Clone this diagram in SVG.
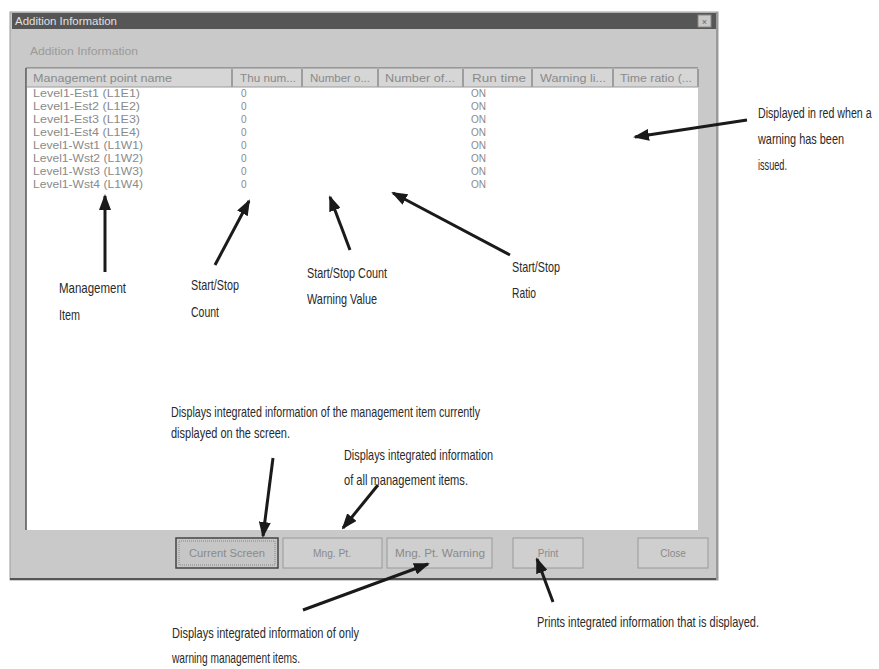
<svg xmlns="http://www.w3.org/2000/svg" width="879" height="669" viewBox="0 0 879 669">
<style>
.ann{font-family:"Liberation Sans Narrow","Liberation Sans",Arial,sans-serif;font-size:15px;fill:#2a2a2a}
.ann2{font-family:"Liberation Sans",Arial,sans-serif;font-size:15px;fill:#2a2a2a}
.ui{font-family:"Liberation Sans","DejaVu Sans",sans-serif;font-size:10px;fill:#8a8a8a}
.hdr{font-family:"Liberation Sans","DejaVu Sans",sans-serif;font-size:10px;fill:#8a8a8a}
.btn{fill:#cfcfcf;stroke:#9a9a9a;stroke-width:1}
.arrow{fill:none;stroke:#1a1a1a;stroke-width:3}
</style>
<defs>
<marker id="ah" viewBox="0 0 16 12" refX="14" refY="6" markerWidth="16" markerHeight="12" markerUnits="userSpaceOnUse" orient="auto">
<path d="M0,0 L16,6 L0,12 z" fill="#1a1a1a"/>
</marker>
</defs>
<rect width="879" height="669" fill="#ffffff"/>
<g id="dialog">
<rect x="10" y="12" width="708" height="568" fill="#c9c9c9" stroke="#9c9c9c"/>
<line x1="10" y1="579" x2="718" y2="579" stroke="#555" stroke-width="2"/>
<line x1="717" y1="12" x2="717" y2="580" stroke="#9a9a9a" stroke-width="2"/>
<rect x="12" y="13" width="704" height="16" fill="#565656"/>
<text x="15" y="25" class="ui" style="fill:#e0e0e0" textLength="102" lengthAdjust="spacingAndGlyphs">Addition Information</text>
<rect x="698" y="15" width="13" height="12" fill="#c9c9c9" stroke="#888"/>
<text x="704.5" y="24.5" class="ui" text-anchor="middle" style="fill:#666;font-size:9px">×</text>
<text x="30" y="55" class="ui" style="fill:#9a9a9a" textLength="108" lengthAdjust="spacingAndGlyphs">Addition Information</text>
</g>
<g id="list">
<rect x="26" y="68" width="672" height="462" fill="#ffffff"/>
<line x1="26" y1="68" x2="26" y2="530" stroke="#555" stroke-width="1.5"/>
<line x1="26" y1="68" x2="698" y2="68" stroke="#666" stroke-width="1"/>
<rect x="27" y="69" width="671" height="18" fill="#d6d6d6"/>
<g stroke="#8a8a8a" stroke-width="1.5">
<line x1="232" y1="69" x2="232" y2="87"/>
<line x1="302" y1="69" x2="302" y2="87"/>
<line x1="378" y1="69" x2="378" y2="87"/>
<line x1="463" y1="69" x2="463" y2="87"/>
<line x1="532" y1="69" x2="532" y2="87"/>
<line x1="613" y1="69" x2="613" y2="87"/>
<line x1="698" y1="69" x2="698" y2="87"/>
</g>
<line x1="27" y1="87" x2="698" y2="87" stroke="#9a9a9a"/>
<text x="33" y="82" class="hdr" textLength="139" lengthAdjust="spacingAndGlyphs">Management point name</text>
<text x="240" y="82" class="hdr" textLength="56" lengthAdjust="spacingAndGlyphs">Thu num...</text>
<text x="310" y="82" class="hdr" textLength="60" lengthAdjust="spacingAndGlyphs">Number o...</text>
<text x="385" y="82" class="hdr" textLength="70" lengthAdjust="spacingAndGlyphs">Number of...</text>
<text x="472" y="82" class="hdr" textLength="54" lengthAdjust="spacingAndGlyphs">Run time</text>
<text x="540" y="82" class="hdr" textLength="66" lengthAdjust="spacingAndGlyphs">Warning li...</text>
<text x="620" y="82" class="hdr" textLength="72" lengthAdjust="spacingAndGlyphs">Time ratio (...</text>
<g class="ui">
<text x="33" y="97" textLength="107" lengthAdjust="spacingAndGlyphs">Level1-Est1 (L1E1)</text>
<text x="33" y="110" textLength="107" lengthAdjust="spacingAndGlyphs">Level1-Est2 (L1E2)</text>
<text x="33" y="123" textLength="107" lengthAdjust="spacingAndGlyphs">Level1-Est3 (L1E3)</text>
<text x="33" y="136" textLength="107" lengthAdjust="spacingAndGlyphs">Level1-Est4 (L1E4)</text>
<text x="33" y="149" textLength="110" lengthAdjust="spacingAndGlyphs">Level1-Wst1 (L1W1)</text>
<text x="33" y="162" textLength="110" lengthAdjust="spacingAndGlyphs">Level1-Wst2 (L1W2)</text>
<text x="33" y="175" textLength="110" lengthAdjust="spacingAndGlyphs">Level1-Wst3 (L1W3)</text>
<text x="33" y="188" textLength="110" lengthAdjust="spacingAndGlyphs">Level1-Wst4 (L1W4)</text>
<text x="241" y="97">0</text><text x="241" y="110">0</text><text x="241" y="123">0</text><text x="241" y="136">0</text>
<text x="241" y="149">0</text><text x="241" y="162">0</text><text x="241" y="175">0</text><text x="241" y="188">0</text>
<text x="471" y="97">ON</text><text x="471" y="110">ON</text><text x="471" y="123">ON</text><text x="471" y="136">ON</text>
<text x="471" y="149">ON</text><text x="471" y="162">ON</text><text x="471" y="175">ON</text><text x="471" y="188">ON</text>
</g>
</g>
<g id="btn-current">
<rect x="176" y="538" width="102" height="30" fill="#c6c6c6" stroke="#444" stroke-width="1.5"/>
<rect x="179" y="541" width="96" height="24" fill="none" stroke="#888" stroke-dasharray="1,1"/>
<text x="227" y="557" class="ui" text-anchor="middle" textLength="76" lengthAdjust="spacingAndGlyphs">Current Screen</text>
</g>
<g id="btn-mngpt">
<rect x="283" y="538" width="99" height="30" class="btn"/>
<text x="332" y="557" class="ui" text-anchor="middle" textLength="38" lengthAdjust="spacingAndGlyphs">Mng. Pt.</text>
</g>
<g id="btn-mngptwarning">
<rect x="387" y="538" width="105" height="30" class="btn"/>
<text x="440" y="557" class="ui" text-anchor="middle" textLength="90" lengthAdjust="spacingAndGlyphs">Mng. Pt. Warning</text>
</g>
<g id="btn-print">
<rect x="513" y="538" width="70" height="30" class="btn"/>
<text x="548" y="557" class="ui" text-anchor="middle">Print</text>
</g>
<g id="btn-close">
<rect x="638" y="538" width="70" height="30" class="btn"/>
<text x="673" y="557" class="ui" text-anchor="middle">Close</text>
</g>
<g id="connectors">
<path class="arrow" marker-end="url(#ah)" d="M747,120 L635,137"/>
<path class="arrow" marker-end="url(#ah)" d="M105,272 L105,196"/>
<path class="arrow" marker-end="url(#ah)" d="M215,265 L249,201"/>
<path class="arrow" marker-end="url(#ah)" d="M350,250 L330,197"/>
<path class="arrow" marker-end="url(#ah)" d="M510,255 L393,193"/>
<path class="arrow" marker-end="url(#ah)" d="M273,458 L263,536"/>
<path class="arrow" marker-end="url(#ah)" d="M378,485 L343,528"/>
<path class="arrow" marker-end="url(#ah)" d="M303,610 L428,564"/>
<path class="arrow" marker-end="url(#ah)" d="M553,602 L537,559"/>
</g>
<g id="labels">
<text transform="translate(758,118) scale(0.71,1)" x="0" y="0" class="ann2">Displayed in red when a</text>
<text x="758" y="144" class="ann" textLength="86" lengthAdjust="spacingAndGlyphs">warning has been</text>
<text x="758" y="170" class="ann" textLength="29" lengthAdjust="spacingAndGlyphs">issued.</text>
<text x="59" y="293" class="ann" textLength="67" lengthAdjust="spacingAndGlyphs">Management</text>
<text x="59" y="320" class="ann" textLength="21" lengthAdjust="spacingAndGlyphs">Item</text>
<text x="191" y="290" class="ann" textLength="48" lengthAdjust="spacingAndGlyphs">Start/Stop</text>
<text x="191" y="317" class="ann" textLength="28" lengthAdjust="spacingAndGlyphs">Count</text>
<text x="307" y="278" class="ann" textLength="80" lengthAdjust="spacingAndGlyphs">Start/Stop Count</text>
<text x="307" y="304" class="ann" textLength="70" lengthAdjust="spacingAndGlyphs">Warning Value</text>
<text x="512" y="272" class="ann" textLength="48" lengthAdjust="spacingAndGlyphs">Start/Stop</text>
<text x="512" y="298" class="ann" textLength="24" lengthAdjust="spacingAndGlyphs">Ratio</text>
<text x="171" y="417" class="ann" textLength="309" lengthAdjust="spacingAndGlyphs">Displays integrated information of the management item currently</text>
<text x="171" y="438" class="ann" textLength="119" lengthAdjust="spacingAndGlyphs">displayed on the screen.</text>
<text x="344" y="460" class="ann" textLength="149" lengthAdjust="spacingAndGlyphs">Displays integrated information</text>
<text x="344" y="485" class="ann" textLength="124" lengthAdjust="spacingAndGlyphs">of all management items.</text>
<text x="172" y="638" class="ann" textLength="187" lengthAdjust="spacingAndGlyphs">Displays integrated information of only</text>
<text x="172" y="663" class="ann" textLength="128" lengthAdjust="spacingAndGlyphs">warning management items.</text>
<text x="537" y="627" class="ann" textLength="222" lengthAdjust="spacingAndGlyphs">Prints integrated information that is displayed.</text>
</g>
</svg>
